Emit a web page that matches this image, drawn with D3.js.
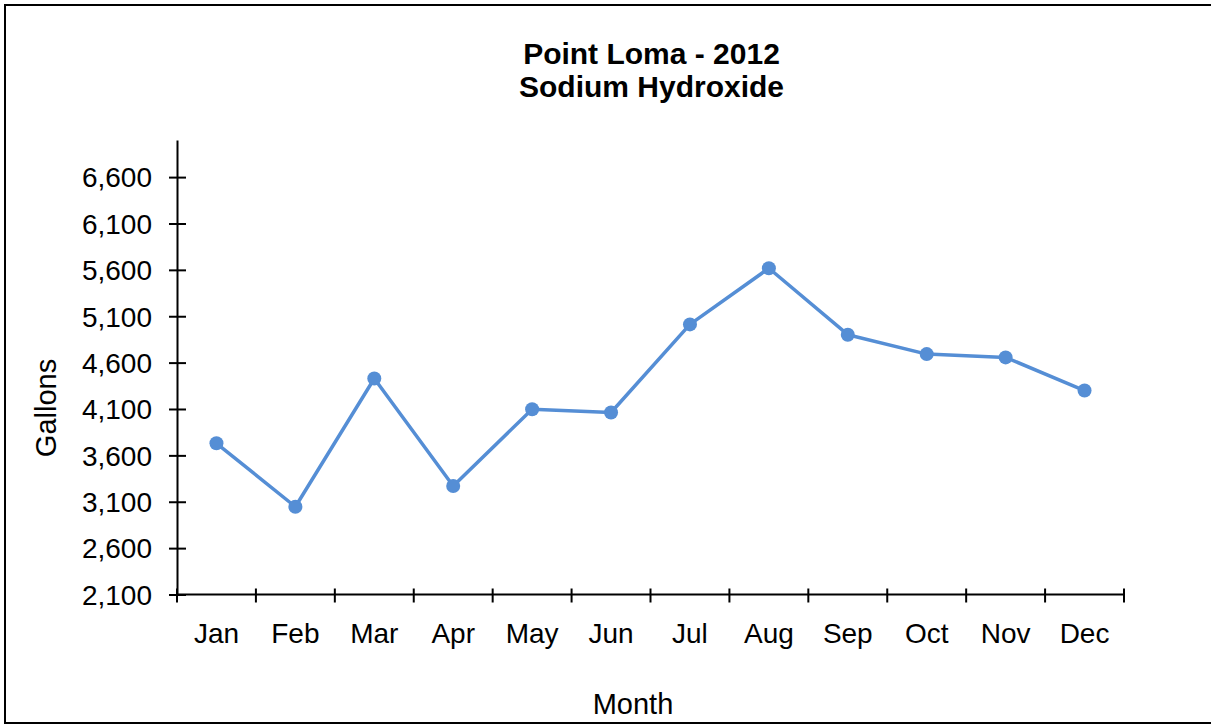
<!DOCTYPE html>
<html>
<head>
<meta charset="utf-8">
<script src="https://cdn.jsdelivr.net/npm/d3@7"></script>
<style>
  html, body { margin: 0; padding: 0; background: #fff; }
  svg { display: block; }
  text { font-family: "Liberation Sans", Arial, sans-serif; fill: #000; }
</style>
</head>
<body>
<svg id="chart" width="1211" height="725"></svg>
<script>
// Monthly sodium hydroxide usage, Point Loma, 2012 (gallons)
const months = ["Jan", "Feb", "Mar", "Apr", "May", "Jun", "Jul", "Aug", "Sep", "Oct", "Nov", "Dec"];
const gallons = [3730, 3046, 4429, 3270, 4098, 4062, 5012, 5617, 4901, 4692, 4656, 4299];
const yTicks = [2100, 2600, 3100, 3600, 4100, 4600, 5100, 5600, 6100, 6600];
const titleLines = ["Point Loma - 2012", "Sodium Hydroxide"];

const svg = d3.select("#chart");
const W = 1211, H = 725;
const plot = { left: 177, right: 1124, top: 140, bottom: 594.5 };

// outer frame
svg.append("rect")
  .attr("x", 5).attr("y", 5)
  .attr("width", W).attr("height", H - 7)
  .attr("fill", "none").attr("stroke", "#000").attr("stroke-width", 2);

const x = d3.scaleBand().domain(months).range([plot.left, plot.right]).padding(0);
const y = d3.scaleLinear().domain([2100, 7000]).range([plot.bottom, plot.top]);

// y axis: ticks cross the axis line
const yAxis = d3.axisLeft(y).tickValues(yTicks)
  .tickFormat(d3.format(",")).tickSizeInner(8).tickSizeOuter(0).tickPadding(20);
const gy = svg.append("g").attr("transform", `translate(${plot.left},0)`).call(yAxis);
gy.select(".domain").attr("stroke", "#000").attr("stroke-width", 2);
gy.selectAll(".tick line").attr("x1", -8).attr("x2", 9)
  .attr("stroke", "#000").attr("stroke-width", 2);
gy.selectAll(".tick text").attr("font-size", 28).attr("x", -25).attr("dy", "0.35em")
  .style("font-family", "'Liberation Sans', Arial, sans-serif");

// x axis with ticks at category boundaries
const gx = svg.append("g").attr("transform", `translate(0,${plot.bottom})`);
gx.append("line").attr("x1", plot.left).attr("x2", plot.right)
  .attr("stroke", "#000").attr("stroke-width", 2);
const bounds = months.map(m => x(m)).concat([plot.right]);
gx.selectAll("line.tk").data(bounds).join("line").attr("class", "tk")
  .attr("x1", d => d).attr("x2", d => d).attr("y1", -6).attr("y2", 8)
  .attr("stroke", "#000").attr("stroke-width", 2);
gx.selectAll("text").data(months).join("text")
  .attr("x", d => x(d) + x.bandwidth() / 2).attr("y", 48.5)
  .attr("text-anchor", "middle").attr("font-size", 28).text(d => d);

// series line and markers
const cx = (d, i) => x(months[i]) + x.bandwidth() / 2;
const line = d3.line().x(cx).y(d => y(d));
svg.append("path").datum(gallons).attr("d", line)
  .attr("fill", "none").attr("stroke", "#558ED5").attr("stroke-width", 3.5)
  .attr("stroke-linejoin", "round");
svg.selectAll("circle.pt").data(gallons).join("circle").attr("class", "pt")
  .attr("cx", cx).attr("cy", d => y(d)).attr("r", 7).attr("fill", "#558ED5");

// titles
svg.selectAll("text.title").data(titleLines).join("text").attr("class", "title")
  .attr("x", (plot.left + plot.right) / 2 + 1).attr("y", (d, i) => 64 + i * 33)
  .attr("text-anchor", "middle").attr("font-size", 30).attr("font-weight", "bold")
  .text(d => d);

// axis titles
svg.append("text").attr("x", 633).attr("y", 714)
  .attr("text-anchor", "middle").attr("font-size", 29).text("Month");
svg.append("text").attr("transform", `translate(56,408) rotate(-90)`)
  .attr("text-anchor", "middle").attr("font-size", 29).text("Gallons");
</script>
</body>
</html>
